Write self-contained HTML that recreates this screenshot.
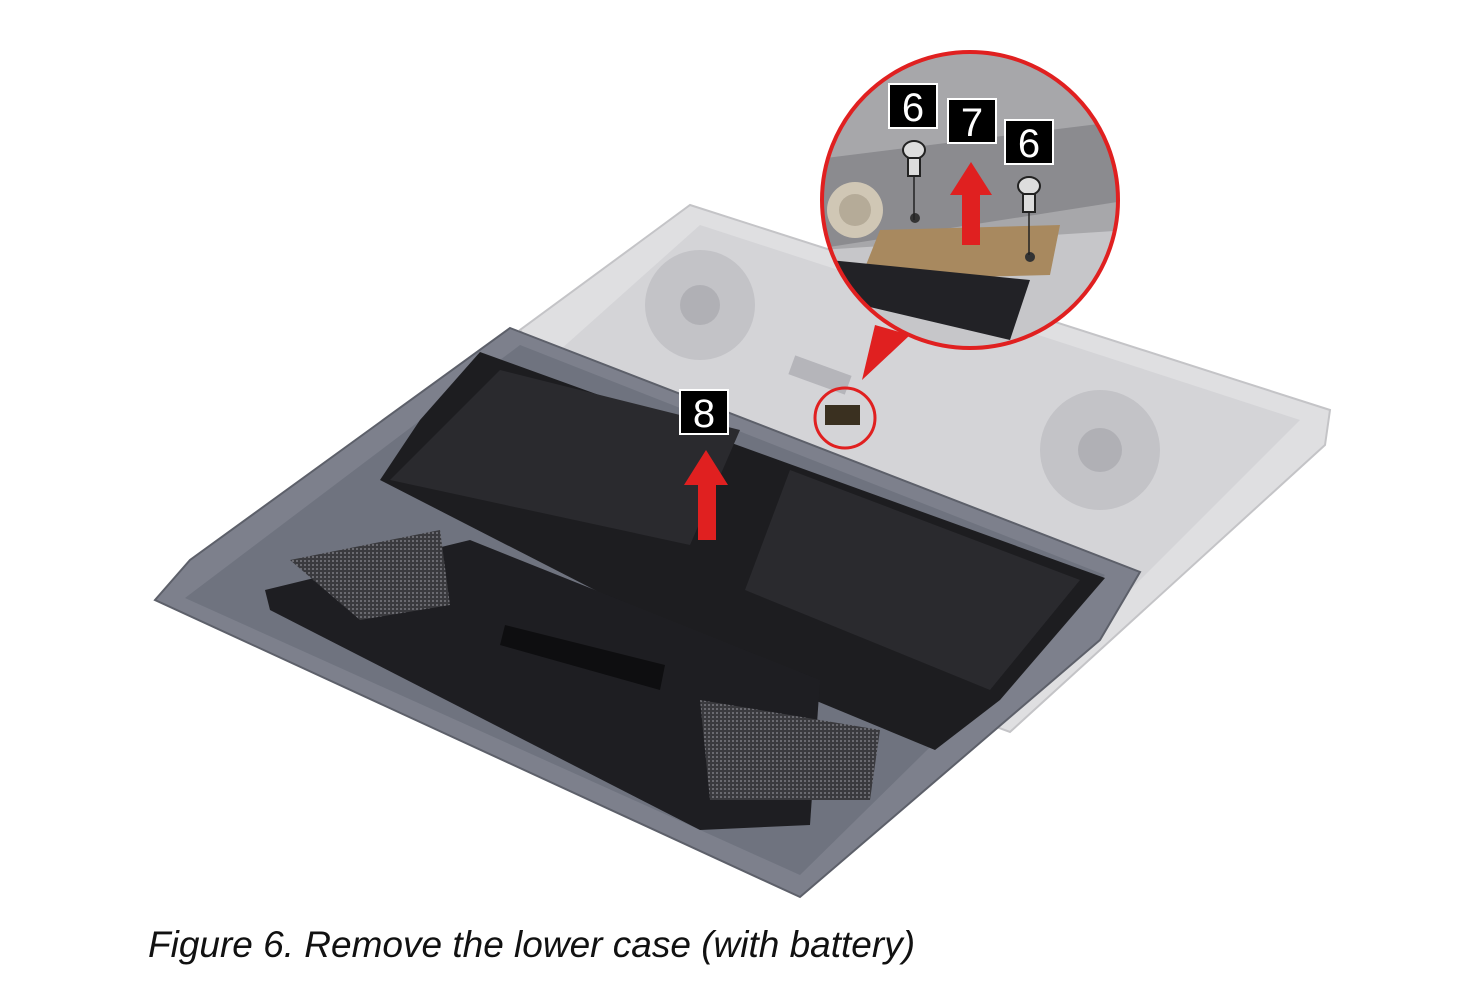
<!DOCTYPE html>
<html><head><meta charset="utf-8"><style>
html,body{margin:0;padding:0;background:#fff;width:1471px;height:986px;overflow:hidden}
svg{position:absolute;left:0;top:0}
.cap{position:absolute;left:148px;top:924px;font-family:"Liberation Sans",sans-serif;font-style:italic;font-size:37px;color:#111}
</style></head><body>
<svg width="1471" height="986" viewBox="0 0 1471 986">
<defs>
<clipPath id="cc"><circle cx="970" cy="200" r="148"/></clipPath>
<pattern id="mesh" width="4" height="4" patternUnits="userSpaceOnUse"><rect width="4" height="4" fill="#3a3a3e"/><rect width="2" height="2" fill="#6a6a70"/></pattern>
</defs>
<polygon points="690,205 1330,410 1325,445 1010,732 760,640 520,330" fill="#dfdfe1" stroke="#c4c4c7" stroke-width="2"/>
<polygon points="700,225 1300,420 1020,700 560,350" fill="#d4d4d7"/>
<circle cx="700" cy="305" r="55" fill="#c3c3c7"/><circle cx="700" cy="305" r="20" fill="#b0b0b5"/>
<circle cx="1100" cy="450" r="60" fill="#c3c3c7"/><circle cx="1100" cy="450" r="22" fill="#b0b0b5"/>
<rect x="790" y="365" width="60" height="20" fill="#b5b5ba" transform="rotate(20 820 375)"/>
<polygon points="510,328 1140,572 1100,640 800,897 155,600 190,560" fill="#7d808c" stroke="#5d606a" stroke-width="2"/>
<polygon points="520,345 1105,575 800,875 185,598" fill="#6f737f"/>
<polygon points="480,352 1105,578 1000,700 935,750 790,690 380,480 420,420" fill="#1d1d20"/>
<polygon points="500,370 740,430 690,545 390,480" fill="#2a2a2e"/>
<polygon points="790,470 1080,580 990,690 745,590" fill="#2a2a2e"/>
<polygon points="265,590 470,540 820,680 810,825 700,830 270,610" fill="#1e1e22"/>
<polygon points="290,560 440,530 450,605 360,620" fill="url(#mesh)"/>
<polygon points="700,700 880,730 870,800 710,800" fill="url(#mesh)"/>
<polygon points="505,625 665,665 660,690 500,645" fill="#0e0e10"/>
<polygon points="875,325 910,335 862,380" fill="#e02020"/>
<circle cx="845" cy="418" r="30" fill="none" stroke="#e02020" stroke-width="3"/>
<rect x="825" y="405" width="35" height="20" fill="#3a3020"/>
<g clip-path="url(#cc)">
<rect x="810" y="40" width="320" height="330" fill="#a7a7aa"/>
<polygon points="810,160 1130,120 1130,200 810,250" fill="#8b8b8f"/>
<polygon points="820,250 1130,230 1130,370 820,370" fill="#c6c6c9"/>
<polygon points="880,230 1060,225 1050,275 860,280" fill="#a8895f"/>
<polygon points="830,260 1030,280 1010,340 840,300" fill="#222226"/>
<circle cx="855" cy="210" r="28" fill="#d0c7b5"/><circle cx="855" cy="210" r="16" fill="#b5ab98"/>
<circle cx="915" cy="218" r="5" fill="#333"/><circle cx="1030" cy="257" r="5" fill="#333"/>
</g>
<circle cx="970" cy="200" r="148" fill="none" stroke="#e02020" stroke-width="4"/>
<g stroke="#222" stroke-width="1.5"><line x1="914" y1="175" x2="914" y2="220"/><line x1="1029" y1="205" x2="1029" y2="255"/></g>
<ellipse cx="914" cy="150" rx="11" ry="9" fill="#ddd" stroke="#222" stroke-width="2"/><rect x="908" y="158" width="12" height="18" fill="#ddd" stroke="#222" stroke-width="2"/>
<ellipse cx="1029" cy="186" rx="11" ry="9" fill="#ddd" stroke="#222" stroke-width="2"/><rect x="1023" y="194" width="12" height="18" fill="#ddd" stroke="#222" stroke-width="2"/>
<polygon points="962,245 980,245 980,195 992,195 971,162 950,195 962,195" fill="#e02020"/>
<polygon points="698,540 716,540 716,485 728,485 706,450 684,485 698,485" fill="#e02020"/>
<g font-family="Liberation Sans,sans-serif" font-size="40" fill="#fff" text-anchor="middle">
<rect x="889" y="84" width="48" height="44" fill="#000" stroke="#fff" stroke-width="2"/><text x="913" y="121">6</text>
<rect x="948" y="99" width="48" height="44" fill="#000" stroke="#fff" stroke-width="2"/><text x="972" y="136">7</text>
<rect x="1005" y="120" width="48" height="44" fill="#000" stroke="#fff" stroke-width="2"/><text x="1029" y="157">6</text>
<rect x="680" y="390" width="48" height="44" fill="#000" stroke="#fff" stroke-width="2"/><text x="704" y="427">8</text>
</g>
</svg>
<div class="cap">Figure 6. Remove the lower case (with battery)</div>
</body></html>
